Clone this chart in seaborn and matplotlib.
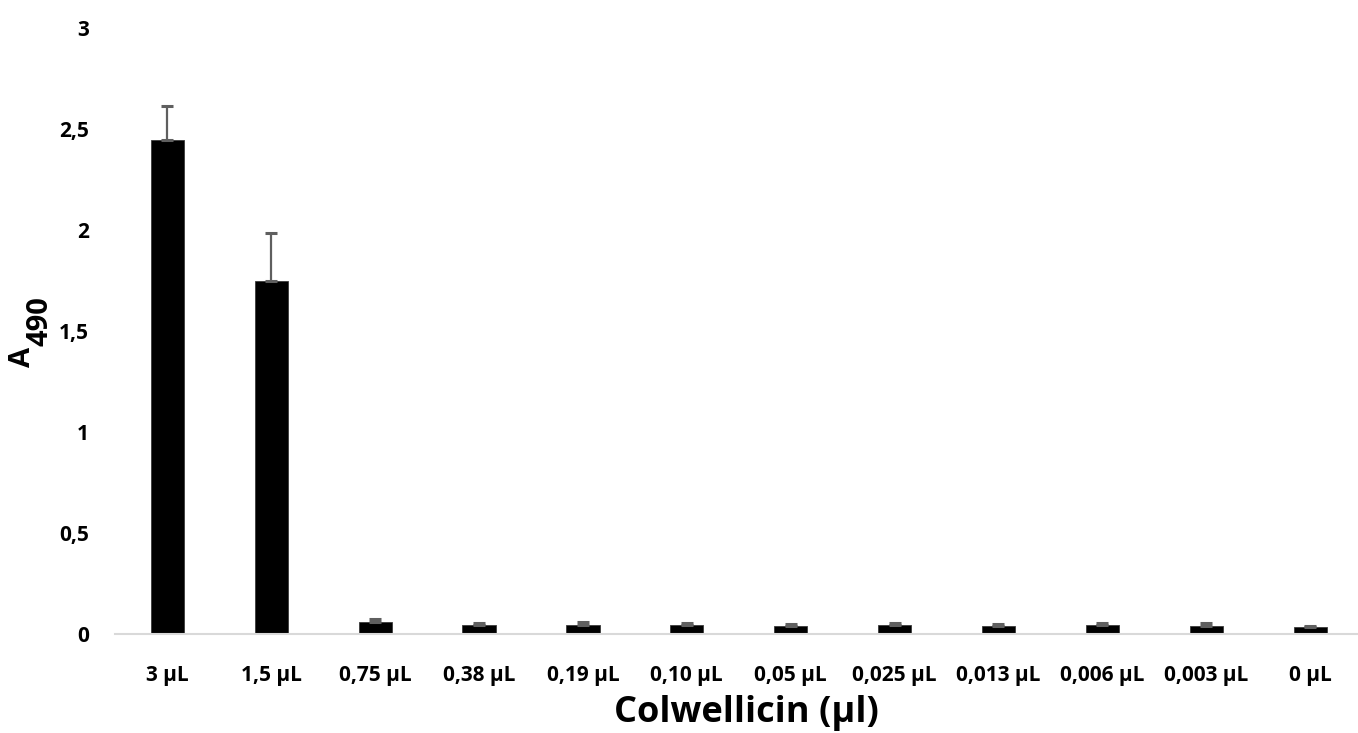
import numpy as np
import pandas as pd
import matplotlib
matplotlib.use("Agg")
import matplotlib.pyplot as plt
import seaborn as sns

# Colwellicin dose series and measured absorbance at 490 nm
doses = ["3 µL", "1,5 µL", "0,75 µL", "0,38 µL", "0,19 µL", "0,10 µL",
         "0,05 µL", "0,025 µL", "0,013 µL", "0,006 µL", "0,003 µL", "0 µL"]
a490 = [2.445, 1.749, 0.059, 0.043, 0.045, 0.043, 0.040, 0.043, 0.040, 0.043, 0.042, 0.035]
a490_err = [0.170, 0.235, 0.013, 0.010, 0.016, 0.010, 0.008, 0.013, 0.008, 0.010, 0.013, 0.005]
y_ticks = [0, 0.5, 1, 1.5, 2, 2.5, 3]
y_tick_labels = ["0", "0,5", "1", "1,5", "2", "2,5", "3"]

sns.set_theme(style="white")
plt.rcParams["font.family"] = ["Open Sans", "DejaVu Sans"]
plt.rcParams["font.weight"] = "bold"

df = pd.DataFrame({"dose": doses, "a490": a490})

fig = plt.figure(figsize=(13.58, 7.33), dpi=100)
ax = fig.add_axes([0.085, 0.135, 0.918, 0.827])

sns.barplot(data=df, x="dose", y="a490", order=doses, color="black",
            width=0.32, errorbar=None, edgecolor="#3a3a3a", linewidth=0.6, ax=ax)

xpos = np.arange(len(doses))
ax.errorbar(xpos, a490, yerr=[np.zeros(len(a490)), a490_err], fmt="none",
            ecolor="#5f5f5f", elinewidth=1.6, capsize=4.6, capthick=2.2, zorder=3)

ax.set_ylim(0, 3)
ax.set_xlim(-0.5, len(doses) - 0.5)
ax.set_yticks(y_ticks)
ax.set_yticklabels(y_tick_labels)
ax.tick_params(axis="both", length=0, labelsize=15)
ax.tick_params(axis="y", pad=19)
ax.tick_params(axis="x", pad=22)
for lab in ax.get_xticklabels() + ax.get_yticklabels():
    lab.set_fontweight("bold")
    lab.set_color("black")

for side in ["top", "right", "left"]:
    ax.spines[side].set_visible(False)
ax.spines["bottom"].set_color("#d9d9d9")
ax.spines["bottom"].set_linewidth(1.5)
ax.grid(False)
ax.set_xlabel("")
ax.set_ylabel("")

# axis titles
fig.text(0.55, 0.027, "Colwellicin (µl)", fontsize=26, fontweight="bold",
         ha="center", va="center", color="black")
fig.text(0.0165, 0.513, "A", fontsize=21, fontweight="bold", rotation=90,
         ha="center", va="center", color="black")
fig.text(0.0295, 0.562, "490", fontsize=21, fontweight="bold", rotation=90,
         ha="center", va="center", color="black")

fig.savefig("out.png", dpi=100, facecolor="white")
